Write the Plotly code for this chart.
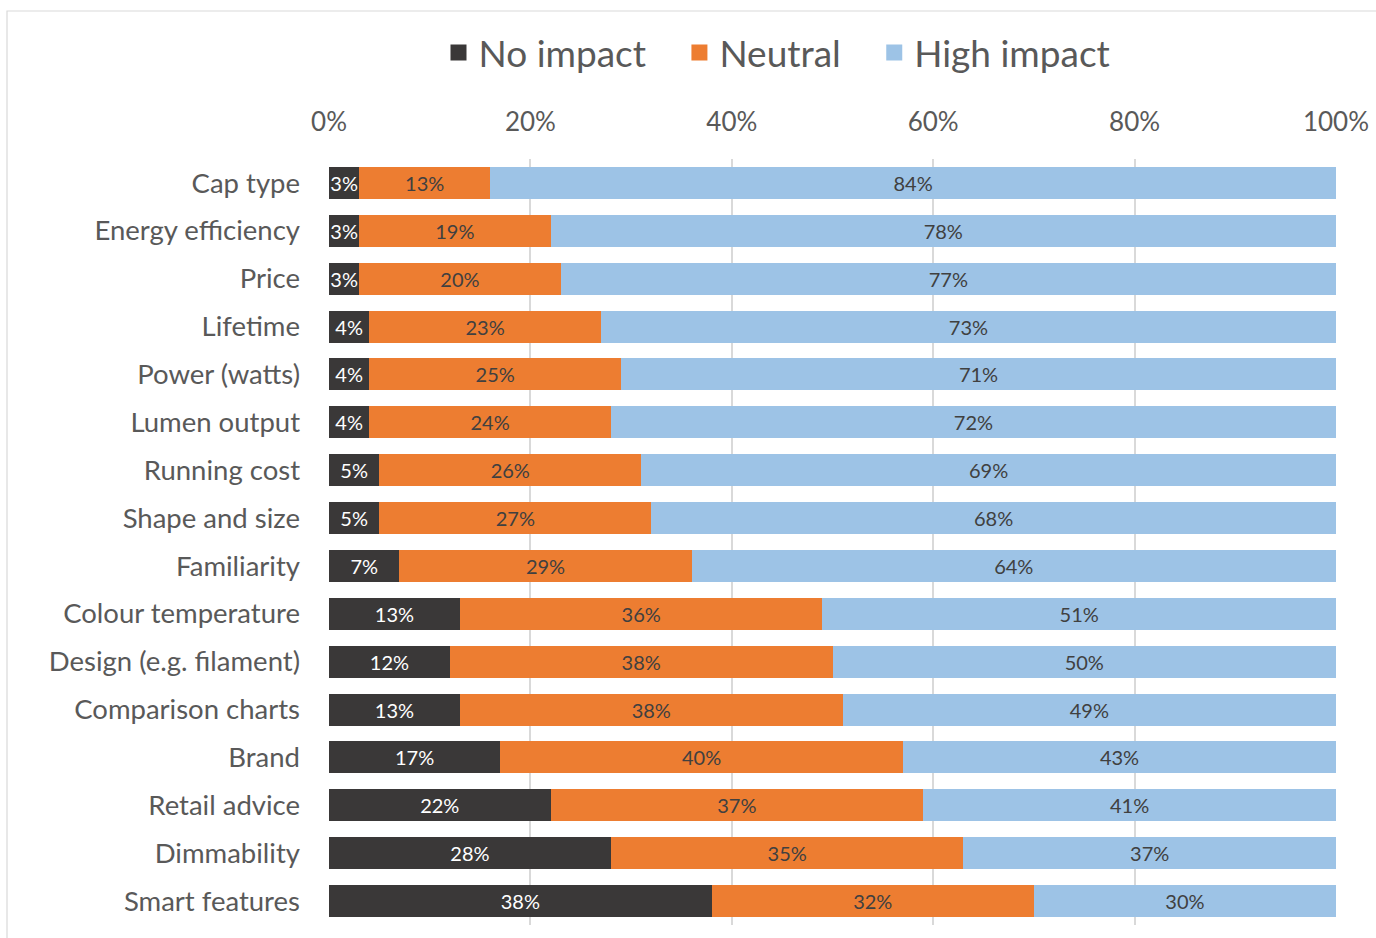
import plotly.graph_objects as go

categories = ["Cap type", "Energy efficiency", "Price", "Lifetime", "Power (watts)",
              "Lumen output", "Running cost", "Shape and size", "Familiarity",
              "Colour temperature", "Design (e.g. filament)", "Comparison charts",
              "Brand", "Retail advice", "Dimmability", "Smart features"]
no_impact = [3, 3, 3, 4, 4, 4, 5, 5, 7, 13, 12, 13, 17, 22, 28, 38]
neutral = [13, 19, 20, 23, 25, 24, 26, 27, 29, 36, 38, 38, 40, 37, 35, 32]
high_impact = [84, 78, 77, 73, 71, 72, 69, 68, 64, 51, 50, 49, 43, 41, 37, 30]
series_names = ["No impact", "Neutral", "High impact"]
tick_vals = [0, 20, 40, 60, 80, 100]
tick_text = ["0%", "20%", "40%", "60%", "80%", "100%"]

colors = ["#3A3838", "#ED7D31", "#9DC3E6"]
text_colors = ["#FFFFFF", "#404040", "#404040"]
FONT = "Lato, Open Sans, sans-serif"
NBSP = "\u00a0"

fig = go.Figure()
for name, vals, col, tcol in zip(series_names, [no_impact, neutral, high_impact], colors, text_colors):
    fig.add_trace(go.Bar(
        y=categories, x=vals, name=name, orientation="h",
        marker=dict(color=col, line=dict(width=0)),
        text=[f"{v}%" for v in vals],
        textposition="inside", insidetextanchor="middle", textangle=0,
        constraintext="none",
        textfont=dict(family=FONT, size=20, color=tcol),
        showlegend=False,
    ))
# legend entries with larger square symbols
for i, (name, col) in enumerate(zip(series_names, colors)):
    label = name + (NBSP * 3 if i < len(series_names) - 1 else "")
    fig.add_trace(go.Scatter(
        x=[None], y=[None], mode="markers", name=label,
        marker=dict(symbol="square", size=16, color=col),
        showlegend=True, hoverinfo="skip",
    ))

W, H = 1376, 938
L, R, T, B = 329, 40, 159, 13
pw, ph = W - L - R, H - T - B

def px_x(x):
    return (x - L) / pw

def px_y(y):
    return (H - B - y) / ph

fig.update_layout(
    barmode="stack",
    width=W, height=H,
    margin=dict(l=L, r=R, t=T, b=B, autoexpand=False),
    paper_bgcolor="white", plot_bgcolor="white",
    bargap=0.33,
    uniformtext=dict(minsize=20, mode="show"),
    font=dict(family=FONT, color="#595959"),
    legend=dict(orientation="h", x=px_x(777), xanchor="center", y=px_y(53), yanchor="middle",
                font=dict(size=37, color="#595959"), traceorder="normal",
                itemwidth=30, itemsizing="trace", bgcolor="rgba(0,0,0,0)"),
    xaxis=dict(range=[0, 100], side="top", tickvals=tick_vals, ticktext=tick_text,
               showgrid=True, gridcolor="#D9D9D9", gridwidth=1.5, zeroline=False,
               showline=False, ticks="", ticklabelstandoff=22, automargin=False,
               tickfont=dict(size=26, color="#595959"), fixedrange=True),
    yaxis=dict(autorange="reversed", showgrid=False, showline=False, ticks="",
               ticklabelstandoff=28, automargin=False,
               tickfont=dict(size=27.5, color="#595959"), fixedrange=True),
    shapes=[dict(type="rect", xref="paper", yref="paper",
                 x0=px_x(7), x1=px_x(1390), y0=px_y(950), y1=px_y(11),
                 line=dict(color="#D9D9D9", width=1.2), fillcolor="rgba(0,0,0,0)", layer="below")],
)

fig.write_html("out.html", config={"displayModeBar": False},
               post_script="document.body.style.margin='0';")
